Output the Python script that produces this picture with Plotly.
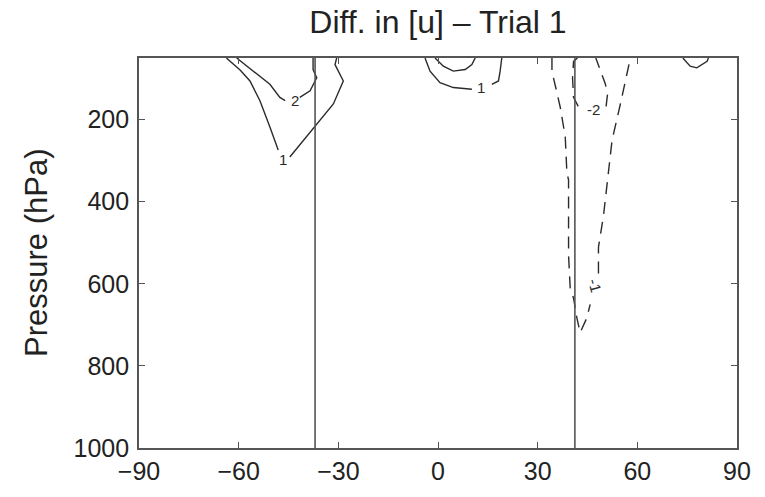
import plotly.graph_objects as go

# ---------------- data (latitude in degrees, pressure in hPa) ----------------
x_ticks = [-90, -60, -30, 0, 30, 60, 90]
y_ticks = [200, 400, 600, 800, 1000]
boundary_lats = [-37.0, 41.2]

# level +1, southern hemisphere (split at label)
c1s_a_lat = [-63.7, -59.5, -56.6, -53.6, -50.6, -48.1]
c1s_a_p = [50, 80, 106, 154, 218, 274]
c1s_b_lat = [-44.6, -37.6, -31.5, -28.5, -31.0, -30.5]
c1s_b_p = [291, 222, 162, 106, 66, 50]

# level +2, southern hemisphere
c2s_a_lat = [-60.6, -55.6, -50.6, -47.6, -46.0]
c2s_a_p = [50, 82, 114, 146, 154]
c2s_b_lat = [-41.6, -38.5, -36.5, -37.6, -37.6]
c2s_b_p = [146, 130, 98, 78, 50]

# level +1, tropics
c1t_a_lat = [-3.9, -2.4, 0.6, 4.6, 10.2]
c1t_a_p = [50, 82, 110, 122, 126]
c1t_b_lat = [16.2, 18.2, 18.7, 19.2]
c1t_b_p = [114, 106, 82, 50]

# level +2, tropics
c2t_lat = [-0.9, 1.6, 4.6, 8.2, 10.2, 11.2]
c2t_p = [50, 70, 82, 78, 66, 50]

# level +1, northern high latitudes
c1n_lat = [73.7, 75.9, 77.9, 81.0, 81.4]
c1n_p = [50, 70, 74, 58, 50]

# level -1, northern hemisphere
m1_a_lat = [34.3, 34.3, 36.8, 38.3, 38.8, 39.3, 39.3, 39.3, 39.8, 40.8, 41.8, 42.8, 44.8, 45.8]
m1_a_p = [50, 82, 170, 242, 330, 347, 427, 531, 611, 635, 683, 719, 683, 650]
m1_b_lat = [48.3, 48.3, 49.8, 50.9, 52.4, 54.9, 56.9, 57.9]
m1_b_p = [575, 511, 435, 355, 250, 162, 82, 50]

# level -2, northern hemisphere
m2_a_lat = [42.0, 40.8, 40.5, 40.8, 42.2]
m2_a_p = [50, 58, 98, 146, 168]
m2_b_lat = [50.6, 51.0, 50.4, 48.3, 47.5]
m2_b_p = [168, 140, 114, 66, 50]

# contour labels
label_text = ["1", "2", "1", "-1", "-2"]
label_lat = [-46.6, -43.1, 12.9, 47.2, 46.7]
label_p = [298, 154, 122, 605, 176]
label_angle = [0, 0, 0, 75, 0]

# ---------------- figure ----------------
FONT = "Liberation Sans, Arial, Helvetica"
fig = go.Figure()
line_col = "#2b2b2b"

solid_paths = [
    (c1s_a_lat, c1s_a_p), (c1s_b_lat, c1s_b_p),
    (c2s_a_lat, c2s_a_p), (c2s_b_lat, c2s_b_p),
    (c1t_a_lat, c1t_a_p), (c1t_b_lat, c1t_b_p),
    (c2t_lat, c2t_p), (c1n_lat, c1n_p),
]
dashed_paths = [
    (m1_a_lat, m1_a_p), (m1_b_lat, m1_b_p),
    (m2_a_lat, m2_a_p), (m2_b_lat, m2_b_p),
]

for xs, ys in solid_paths:
    fig.add_trace(go.Scatter(x=xs, y=ys, mode="lines", line=dict(color=line_col, width=1.4),
                             hoverinfo="skip", showlegend=False))
for xs, ys in dashed_paths:
    fig.add_trace(go.Scatter(x=xs, y=ys, mode="lines",
                             line=dict(color=line_col, width=1.4, dash="12px,8px"),
                             hoverinfo="skip", showlegend=False))

for lat in boundary_lats:
    fig.add_vline(x=lat, line=dict(color="#555555", width=1.6))

for t, lx, ly, ang in zip(label_text, label_lat, label_p, label_angle):
    fig.add_annotation(x=lx, y=ly, text=t, showarrow=False, textangle=ang,
                       font=dict(family=FONT, size=15, color=line_col))

# y-axis title placed as a rotated paper annotation
fig.add_annotation(x=0, xref="paper", y=0.5, yref="paper", xanchor="center", yanchor="middle",
                   xshift=-103, text="Pressure (hPa)", textangle=-90, showarrow=False,
                   font=dict(family=FONT, size=31, color="#222222"))

axis_common = dict(
    showgrid=False, zeroline=False, showline=True, linecolor="#555555", linewidth=1.6,
    mirror="ticks", ticks="inside", ticklen=6, tickwidth=1.2, tickcolor="#555555",
    tickfont=dict(family=FONT, size=25, color="#222222"),
)

fig.update_xaxes(range=[-90, 90], tickvals=x_ticks,
                 ticktext=[str(v).replace("-", "\u2212") for v in x_ticks], **axis_common)
fig.update_yaxes(range=[1000, 50], tickvals=y_ticks, ticktext=[str(v) for v in y_ticks],
                 ticklabelstandoff=3, **axis_common)

fig.update_layout(
    width=765, height=497,
    margin=dict(l=139, r=28, t=58, b=45),
    paper_bgcolor="white", plot_bgcolor="white",
    title=dict(text="Diff. in [u] \u2013 Trial 1", x=0.5725, xanchor="center", y=0.956, yanchor="middle",
               font=dict(family=FONT, size=32, color="#222222")),
)

fig.write_html("out.html", config={"displayModeBar": False},
               post_script="document.body.style.margin='0';")
